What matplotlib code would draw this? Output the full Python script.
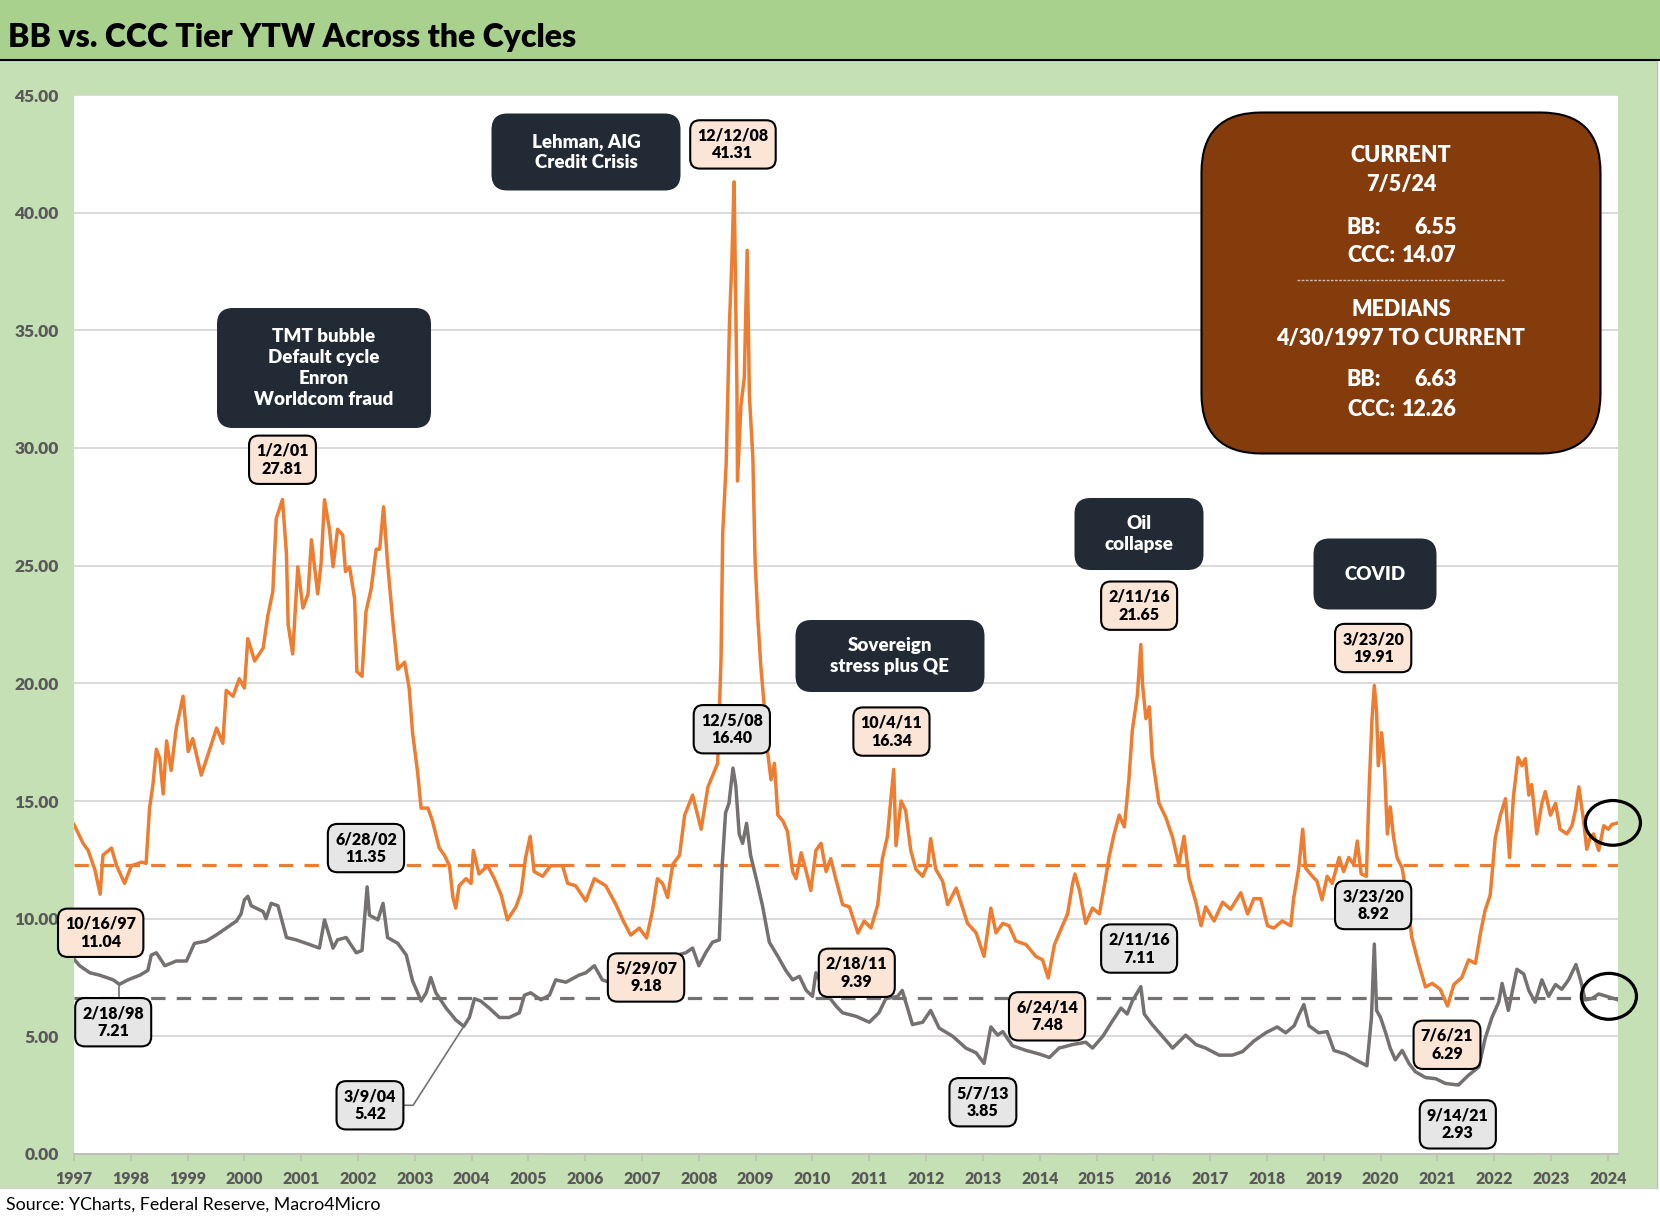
import numpy as np
import matplotlib
matplotlib.use("Agg")
import matplotlib.pyplot as plt
from matplotlib.patches import FancyBboxPatch, Rectangle, Ellipse
from matplotlib.lines import Line2D
from matplotlib.transforms import IdentityTransform

# ---------------- DATA (decimal years, yield to worst %) ----------------
CCC_YEAR = [
    1997.33, 1997.49, 1997.58, 1997.70, 1997.79, 1997.84, 1997.99, 1998.08, 1998.22, 1998.34,
    1998.52, 1998.60, 1998.66, 1998.72, 1998.78, 1998.84, 1998.90, 1998.96, 1999.04, 1999.13,
    1999.25, 1999.34, 1999.42, 1999.57, 1999.72, 1999.84, 1999.95, 2000.01, 2000.13, 2000.24,
    2000.33, 2000.39, 2000.51, 2000.66, 2000.74, 2000.83, 2000.89, 2001.00, 2001.07, 2001.10,
    2001.18, 2001.27, 2001.36, 2001.45, 2001.51, 2001.62, 2001.68, 2001.74, 2001.83, 2001.89,
    2001.97, 2002.06, 2002.11, 2002.18, 2002.27, 2002.31, 2002.40, 2002.47, 2002.56, 2002.65,
    2002.71, 2002.78, 2002.85, 2002.94, 2003.03, 2003.15, 2003.23, 2003.29, 2003.38, 2003.44,
    2003.56, 2003.64, 2003.76, 2003.85, 2003.94, 2004.00, 2004.05, 2004.11, 2004.23, 2004.32,
    2004.36, 2004.46, 2004.61, 2004.73, 2004.85, 2004.96, 2005.11, 2005.20, 2005.28, 2005.36,
    2005.43, 2005.58, 2005.72, 2005.93, 2006.02, 2006.16, 2006.34, 2006.49, 2006.69, 2006.87,
    2006.99, 2007.13, 2007.28, 2007.41, 2007.51, 2007.60, 2007.69, 2007.78, 2007.87, 2007.99,
    2008.08, 2008.22, 2008.37, 2008.49, 2008.66, 2008.72, 2008.75, 2008.81, 2008.87, 2008.91,
    2008.95, 2009.00, 2009.01, 2009.07, 2009.13, 2009.18, 2009.22, 2009.28, 2009.32, 2009.37,
    2009.42, 2009.48, 2009.54, 2009.60, 2009.66, 2009.72, 2009.81, 2009.89, 2009.98, 2010.04,
    2010.13, 2010.22, 2010.30, 2010.39, 2010.48, 2010.57, 2010.65, 2010.74, 2010.86, 2010.98,
    2011.13, 2011.24, 2011.36, 2011.48, 2011.56, 2011.65, 2011.71, 2011.76, 2011.80, 2011.89,
    2011.97, 2012.06, 2012.15, 2012.27, 2012.36, 2012.41, 2012.50, 2012.62, 2012.71, 2012.86,
    2012.94, 2013.06, 2013.21, 2013.35, 2013.47, 2013.56, 2013.68, 2013.79, 2013.91, 2014.09,
    2014.26, 2014.38, 2014.48, 2014.59, 2014.73, 2014.82, 2014.91, 2014.95, 2015.03, 2015.14,
    2015.26, 2015.38, 2015.49, 2015.55, 2015.64, 2015.73, 2015.82, 2015.90, 2015.96, 2016.05,
    2016.11, 2016.14, 2016.20, 2016.26, 2016.31, 2016.43, 2016.55, 2016.67, 2016.78, 2016.87,
    2016.96, 2017.08, 2017.17, 2017.25, 2017.40, 2017.55, 2017.69, 2017.87, 2017.99, 2018.10,
    2018.22, 2018.34, 2018.45, 2018.60, 2018.75, 2018.80, 2018.89, 2018.96, 2019.01, 2019.13,
    2019.21, 2019.30, 2019.39, 2019.48, 2019.60, 2019.68, 2019.77, 2019.86, 2019.92, 2019.99,
    2020.08, 2020.13, 2020.18, 2020.22, 2020.26, 2020.29, 2020.35, 2020.40, 2020.45, 2020.50,
    2020.56, 2020.62, 2020.71, 2020.80, 2020.88, 2021.00, 2021.12, 2021.24, 2021.38, 2021.51,
    2021.62, 2021.76, 2021.88, 2022.00, 2022.09, 2022.17, 2022.26, 2022.35, 2022.44, 2022.53,
    2022.60, 2022.67, 2022.75, 2022.82, 2022.88, 2022.94, 2022.99, 2023.08, 2023.17, 2023.23,
    2023.32, 2023.41, 2023.49, 2023.61, 2023.70, 2023.76, 2023.82, 2023.90, 2023.96, 2024.02,
    2024.08, 2024.17, 2024.26, 2024.34, 2024.40, 2024.51,
]
CCC_YTW = [
    14.00, 13.20, 12.90, 12.06, 11.04, 12.70, 13.00, 12.25, 11.50, 12.25,
    12.40, 12.35, 14.70, 15.70, 17.20, 16.80, 15.30, 17.55, 16.30, 18.10,
    19.45, 17.10, 17.65, 16.10, 17.20, 18.10, 17.45, 19.70, 19.45, 20.20,
    19.80, 21.90, 20.95, 21.50, 22.85, 23.90, 27.00, 27.81, 25.50, 22.50,
    21.25, 24.95, 23.20, 23.80, 26.10, 23.80, 25.10, 27.80, 26.50, 24.95,
    26.55, 26.30, 24.75, 24.95, 23.60, 20.50, 20.30, 23.05, 24.00, 25.70,
    25.70, 27.50, 25.10, 22.70, 20.60, 20.90, 19.80, 17.90, 16.20, 14.70,
    14.70, 14.15, 13.00, 12.70, 12.25, 10.90, 10.45, 11.40, 11.70, 11.50,
    12.90, 11.90, 12.25, 11.70, 11.00, 9.95, 10.50, 11.10, 12.60, 13.50,
    12.00, 11.80, 12.25, 12.25, 11.50, 11.40, 10.75, 11.70, 11.40, 10.60,
    9.95, 9.30, 9.60, 9.18, 10.30, 11.70, 11.50, 10.90, 12.30, 12.70,
    14.40, 15.25, 13.80, 15.60, 16.60, 21.00, 26.40, 29.30, 35.40, 37.90,
    41.31, 32.50, 28.60, 31.80, 33.00, 38.40, 32.20, 29.60, 25.20, 22.70,
    20.75, 19.05, 17.10, 15.90, 16.60, 14.40, 14.15, 13.70, 12.00, 11.70,
    12.80, 12.00, 11.20, 12.90, 13.20, 12.00, 12.55, 11.70, 10.60, 10.50,
    9.39, 9.90, 9.60, 10.60, 12.55, 13.50, 15.10, 16.34, 13.10, 15.00,
    14.60, 12.90, 12.10, 11.80, 12.30, 13.40, 12.10, 11.60, 10.60, 11.30,
    10.70, 9.80, 9.40, 8.40, 10.45, 9.40, 9.80, 9.70, 9.05, 8.90,
    8.40, 8.25, 7.48, 8.90, 9.70, 10.20, 11.50, 11.90, 11.20, 9.80,
    10.45, 10.20, 11.70, 12.60, 13.60, 14.40, 13.90, 15.90, 18.00, 19.50,
    21.65, 19.95, 18.50, 19.00, 16.90, 14.90, 14.30, 13.45, 12.30, 13.50,
    11.70, 10.70, 9.70, 10.50, 9.90, 10.70, 10.40, 11.10, 10.20, 10.85,
    10.85, 9.70, 9.60, 9.90, 9.70, 10.85, 12.15, 13.80, 12.15, 11.80,
    11.60, 10.80, 11.80, 11.50, 12.60, 12.00, 12.60, 12.30, 13.30, 11.90,
    11.80, 15.60, 18.50, 19.91, 18.80, 16.50, 17.90, 16.40, 13.60, 14.75,
    13.45, 12.60, 12.15, 10.85, 9.20, 8.10, 7.10, 7.25, 7.00, 6.29,
    7.20, 7.50, 8.25, 8.10, 9.40, 10.35, 11.00, 13.45, 14.40, 15.10,
    12.60, 15.20, 16.85, 16.50, 16.80, 15.25, 15.70, 13.60, 14.90, 15.40,
    14.40, 14.90, 13.80, 13.60, 13.95, 14.60, 15.60, 14.25, 12.95, 13.45,
    13.60, 12.90, 13.95, 13.80, 14.00, 14.07,
]

BB_YEAR = [
    1997.33, 1997.43, 1997.61, 1997.78, 1998.02, 1998.13, 1998.28, 1998.49, 1998.63, 1998.69,
    1998.78, 1998.93, 1999.13, 1999.31, 1999.45, 1999.66, 1999.83, 2000.01, 2000.19, 2000.27,
    2000.33, 2000.39, 2000.45, 2000.66, 2000.71, 2000.80, 2000.92, 2001.07, 2001.24, 2001.42,
    2001.65, 2001.74, 2001.89, 2001.97, 2002.12, 2002.30, 2002.40, 2002.49, 2002.53, 2002.68,
    2002.77, 2002.85, 2003.03, 2003.18, 2003.29, 2003.38, 2003.44, 2003.53, 2003.61, 2003.70,
    2003.88, 2004.05, 2004.19, 2004.29, 2004.38, 2004.49, 2004.64, 2004.82, 2004.99, 2005.17,
    2005.26, 2005.37, 2005.55, 2005.70, 2005.81, 2005.99, 2006.22, 2006.34, 2006.49, 2006.63,
    2006.75, 2007.00, 2007.40, 2007.70, 2008.10, 2008.22, 2008.33, 2008.45, 2008.57, 2008.69,
    2008.74, 2008.80, 2008.86, 2008.93, 2008.98, 2009.04, 2009.10, 2009.17, 2009.24, 2009.36,
    2009.45, 2009.57, 2009.72, 2009.86, 2009.98, 2010.10, 2010.22, 2010.33, 2010.39, 2010.55,
    2010.74, 2010.86, 2011.10, 2011.33, 2011.50, 2011.62, 2011.83, 2011.91, 2012.09, 2012.27,
    2012.41, 2012.56, 2012.80, 2013.03, 2013.21, 2013.35, 2013.47, 2013.59, 2013.68, 2013.85,
    2014.09, 2014.32, 2014.50, 2014.67, 2014.91, 2015.14, 2015.26, 2015.44, 2015.61, 2015.76,
    2015.87, 2015.96, 2016.11, 2016.17, 2016.31, 2016.49, 2016.67, 2016.90, 2017.08, 2017.25,
    2017.49, 2017.72, 2017.90, 2018.10, 2018.31, 2018.51, 2018.66, 2018.81, 2018.89, 2018.98,
    2019.07, 2019.24, 2019.39, 2019.51, 2019.71, 2019.89, 2020.09, 2020.17, 2020.22, 2020.26,
    2020.33, 2020.42, 2020.50, 2020.59, 2020.71, 2020.83, 2020.94, 2021.12, 2021.30, 2021.47,
    2021.70, 2021.88, 2022.06, 2022.17, 2022.29, 2022.41, 2022.47, 2022.58, 2022.73, 2022.85,
    2022.94, 2023.05, 2023.17, 2023.29, 2023.41, 2023.52, 2023.64, 2023.77, 2023.85, 2023.93,
    2024.05, 2024.17, 2024.31, 2024.51,
]
BB_YTW = [
    8.28, 8.00, 7.70, 7.60, 7.40, 7.21, 7.40, 7.60, 7.80, 8.45,
    8.55, 8.00, 8.20, 8.20, 8.95, 9.05, 9.30, 9.60, 9.90, 10.20,
    10.80, 10.95, 10.55, 10.30, 10.00, 10.65, 10.55, 9.20, 9.10, 8.95,
    8.75, 9.95, 8.75, 9.10, 9.20, 8.55, 8.65, 11.35, 10.15, 9.95,
    10.65, 9.20, 8.95, 8.45, 7.35, 6.85, 6.50, 6.85, 7.50, 6.85,
    6.20, 5.70, 5.42, 5.80, 6.60, 6.50, 6.20, 5.80, 5.80, 6.00,
    6.75, 6.85, 6.55, 6.75, 7.40, 7.30, 7.60, 7.70, 8.00, 7.40,
    7.30, 7.60, 7.90, 8.30, 8.55, 8.75, 8.00, 8.55, 9.00, 9.10,
    12.25, 14.50, 14.90, 16.40, 15.65, 13.60, 13.20, 14.05, 12.70, 11.50,
    10.55, 9.00, 8.40, 7.80, 7.40, 7.55, 6.95, 6.70, 7.70, 6.90,
    6.30, 6.00, 5.85, 5.60, 6.00, 6.60, 6.70, 6.95, 5.50, 5.60,
    6.10, 5.35, 5.00, 4.50, 4.30, 3.85, 5.40, 5.05, 5.20, 4.60,
    4.40, 4.25, 4.10, 4.50, 4.65, 4.75, 4.50, 5.00, 5.65, 6.20,
    5.95, 6.50, 7.11, 5.95, 5.50, 5.00, 4.50, 5.05, 4.65, 4.50,
    4.20, 4.20, 4.35, 4.80, 5.15, 5.40, 5.15, 5.45, 5.90, 6.35,
    5.45, 5.15, 5.20, 4.40, 4.25, 4.00, 3.75, 5.80, 8.92, 6.10,
    5.80, 5.15, 4.50, 4.00, 4.40, 3.85, 3.50, 3.25, 3.20, 3.00,
    2.93, 3.35, 3.70, 4.90, 5.80, 6.45, 7.25, 6.10, 7.85, 7.65,
    6.95, 6.45, 7.40, 6.70, 7.20, 7.00, 7.40, 8.05, 7.40, 6.55,
    6.60, 6.80, 6.70, 6.55,
]

CCC_MEDIAN = 12.26
BB_MEDIAN = 6.63
START_YEAR = 1997.33   # 4/30/1997
END_YEAR = 2024.51     # 7/5/2024
YEAR_LABELS = [str(y) for y in range(1997, 2025)]

# callout boxes: text, x (year), y (value), kind
LABEL_TEXT = ["12/12/08\n41.31", "1/2/01\n27.81", "10/16/97\n11.04", "2/18/98\n7.21",
              "6/28/02\n11.35", "3/9/04\n5.42", "5/29/07\n9.18", "12/5/08\n16.40",
              "2/18/11\n9.39", "10/4/11\n16.34", "5/7/13\n3.85", "6/24/14\n7.48",
              "2/11/16\n21.65", "2/11/16\n7.11", "3/23/20\n19.91", "3/23/20\n8.92",
              "7/6/21\n6.29", "9/14/21\n2.93"]
LABEL_X = [2008.93, 2001.00, 1997.80, 1998.02, 2002.47, 2002.54, 2007.40, 2008.91,
           2011.11, 2011.72, 2013.33, 2014.46, 2016.08, 2016.08, 2020.20, 2020.20,
           2021.50, 2021.69]
LABEL_Y = [42.9, 29.5, 9.4, 5.6, 13.0, 2.07, 7.5, 18.05, 7.7, 17.95, 2.2, 5.85,
           23.3, 8.73, 21.5, 10.58, 4.64, 1.26]
LABEL_KIND = ["ccc", "ccc", "ccc", "bb", "bb", "bb", "ccc", "bb", "ccc", "ccc", "bb",
              "ccc", "ccc", "bb", "ccc", "bb", "ccc", "bb"]

EVENT_TEXT = ["TMT bubble\nDefault cycle\nEnron\nWorldcom fraud", "Lehman, AIG\nCredit Crisis",
              "Sovereign\nstress plus QE", "Oil\ncollapse", "COVID"]

# ---------------- STYLE ----------------
W, H = 1660, 1222
ORANGE = "#ED7D31"
GRAY = "#767171"
PEACH = "#FBE5D6"
LIGHT_GRAY = "#E7E6E6"
NAVY = "#222A35"
BROWN = "#843C0C"
TICK_COLOR = "#595959"

plt.rcParams["font.family"] = ["Lato", "DejaVu Sans"]

fig = plt.figure(figsize=(W / 100, H / 100), dpi=100)
fig.patch.set_facecolor("white")
PIX = IdentityTransform()


def rect_px(x0, y0, x1, y1, **kw):
    # pixel box measured from the top-left of the image
    fig.add_artist(Rectangle((x0, H - y1), x1 - x0, y1 - y0, transform=PIX, **kw))


def text_px(x, y, s, **kw):
    fig.text(x, H - y, s, transform=PIX, **kw)


def round_box_px(cx, cy, w, h, r, color, z=5, ec=None, lw=0):
    fig.add_artist(FancyBboxPatch((cx - w / 2, H - cy - h / 2), w, h,
                                  boxstyle=f"round,pad=0,rounding_size={r}",
                                  transform=PIX, fc=color, ec=ec or color, lw=lw, zorder=z))


# backgrounds
rect_px(0, 0, W, 60, fc="#A9D18E", ec="none", zorder=-10)
rect_px(0, 61, 1657, 1188, fc="#C5E0B4", ec="none", zorder=-10)
fig.add_artist(Line2D([0, W], [H - 60, H - 60], transform=PIX, color="black", lw=1.5, zorder=-5))
fig.add_artist(Line2D([1657, 1657], [H - 1188, H - 61], transform=PIX, color="#BFBFBF", lw=1, zorder=-5))
fig.add_artist(Line2D([0, 1657], [H - 1188, H - 1188], transform=PIX, color="#D0D0D0", lw=1, zorder=-5))

text_px(8, 38, "BB vs. CCC Tier YTW Across the Cycles", fontsize=23, fontweight="heavy",
        va="center", ha="left", color="black")
text_px(6, 1205, "Source: YCharts, Federal Reserve, Macro4Micro", fontsize=12.8,
        va="center", ha="left", color="black")

# ---------------- AXES ----------------
ax = fig.add_axes([74 / W, 1 - 1154 / H, (1618 - 74) / W, (1154 - 95) / H])
ax.set_facecolor("white")

ax.axhline(CCC_MEDIAN, color=ORANGE, lw=2.3, dashes=(4.5, 3.5), zorder=2)
ax.axhline(BB_MEDIAN, color=GRAY, lw=2.3, dashes=(4.5, 3.5), zorder=2)
ax.plot(CCC_YEAR, CCC_YTW, color=ORANGE, lw=2.5, zorder=3, solid_joinstyle="round")
ax.plot(BB_YEAR, BB_YTW, color=GRAY, lw=2.5, zorder=3, solid_joinstyle="round")

ax.set_xlim(START_YEAR, END_YEAR)
ax.set_ylim(0, 45)
ax.set_yticks(np.arange(0, 46, 5))
ax.set_yticklabels([f"{v:.2f}" for v in np.arange(0, 46, 5)])
ax.set_xticks([START_YEAR + k for k in range(len(YEAR_LABELS))])
ax.set_xticklabels(YEAR_LABELS)
ax.tick_params(axis="y", length=0, pad=11, labelsize=12.5, labelcolor=TICK_COLOR)
ax.tick_params(axis="x", length=5, pad=7, labelsize=11.5, labelcolor=TICK_COLOR,
               color="#BFBFBF", width=1.2)
for lab in ax.get_xticklabels() + ax.get_yticklabels():
    lab.set_fontweight("heavy")

ax.grid(axis="y", color="#D9D9D9", lw=1.4, zorder=0)
ax.set_axisbelow(True)
for side in ["left", "right", "top"]:
    ax.spines[side].set_visible(False)
ax.spines["bottom"].set_color("#BFBFBF")
ax.spines["bottom"].set_linewidth(1.4)

# leader lines
ax.plot([2003.15, 2003.30, 2004.19], [2.07, 2.07, 5.42], color=GRAY, lw=1.2, zorder=4)
ax.plot([1998.13, 1998.13], [6.4, 7.21], color=GRAY, lw=1.2, zorder=4)

# value callouts
for txt, x, y, kind in zip(LABEL_TEXT, LABEL_X, LABEL_Y, LABEL_KIND):
    ax.text(x, y, txt, ha="center", va="center", fontsize=11.5, fontweight="heavy",
            linespacing=1.15, color="black", zorder=6,
            bbox=dict(boxstyle="round,pad=0.45,rounding_size=0.6",
                      fc=PEACH if kind == "ccc" else LIGHT_GRAY, ec="black", lw=1.5))

# end-point circles
ax.add_patch(Ellipse((2024.42, CCC_YTW[-1]), 0.97, 1.9, fill=False, ec="black",
                     lw=2.3, clip_on=False, zorder=7))
ax.add_patch(Ellipse((2024.35, BB_YTW[-1] + 0.15), 0.97, 1.95, fill=False, ec="black",
                     lw=2.3, clip_on=False, zorder=7))

# event boxes (pixel centre, width, height)
EVENT_BOX = [(324, 368, 214, 120), (586, 152, 189, 77), (890, 656, 189, 72),
             (1139, 534, 129, 72), (1375, 574, 123, 71)]
for txt, (cx, cy, w, h) in zip(EVENT_TEXT, EVENT_BOX):
    round_box_px(cx, cy, w, h, 16, NAVY)
    text_px(cx, cy, txt, ha="center", va="center", color="white", fontsize=13.5,
            fontweight="heavy", linespacing=1.3, zorder=6)

# summary box
round_box_px(1401, 283, 399, 341, 60, BROWN, ec="black", lw=1.5)
tk = dict(color="white", fontsize=15.5, fontweight="heavy", va="center", zorder=6)
text_px(1401, 155, "CURRENT", ha="center", **tk)
text_px(1401, 185, "7/5/24", ha="center", **tk)
text_px(1347, 227, "BB:", ha="left", **tk)
text_px(1457, 227, f"{BB_YTW[-1]:.2f}", ha="right", **tk)
text_px(1347, 255, "CCC:", ha="left", **tk)
text_px(1457, 255, f"{CCC_YTW[-1]:.2f}", ha="right", **tk)
fig.add_artist(Line2D([1297, 1505], [H - 280, H - 280], transform=PIX, color="#C9B8A8",
                      lw=1, ls=(0, (2, 1)), zorder=6))
text_px(1401, 309, "MEDIANS", ha="center", **tk)
text_px(1401, 339, "4/30/1997 TO CURRENT", ha="center", **tk)
text_px(1347, 380, "BB:", ha="left", **tk)
text_px(1457, 380, f"{BB_MEDIAN:.2f}", ha="right", **tk)
text_px(1347, 409, "CCC:", ha="left", **tk)
text_px(1457, 409, f"{CCC_MEDIAN:.2f}", ha="right", **tk)

fig.savefig("out.png", dpi=100)
